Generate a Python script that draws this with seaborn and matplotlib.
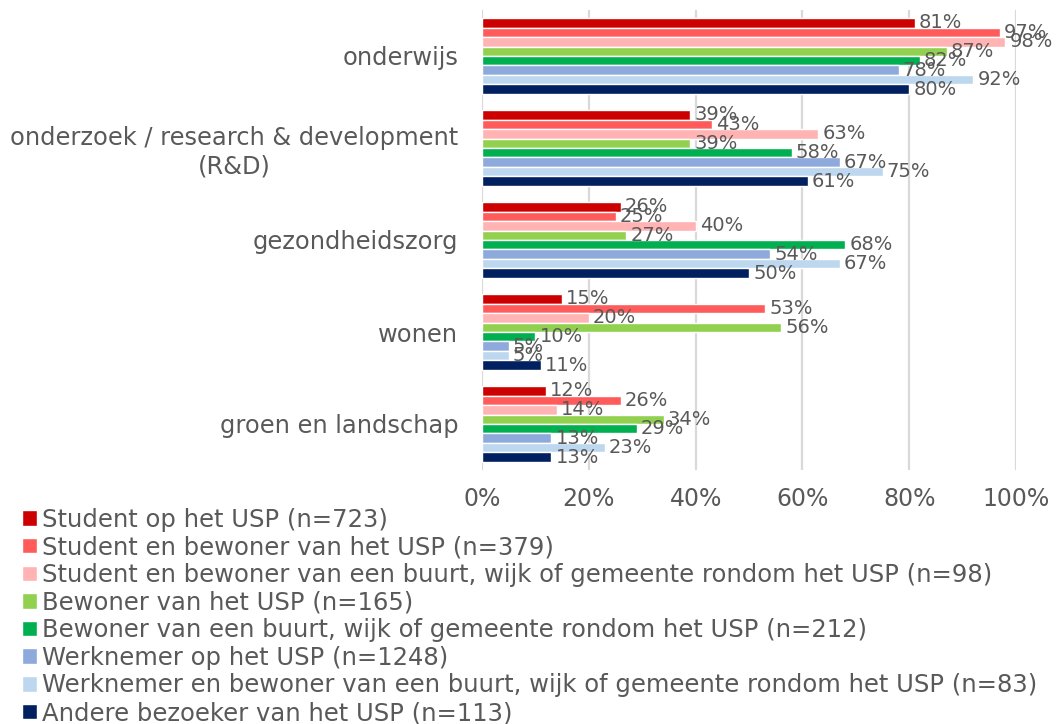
import matplotlib
matplotlib.use("Agg")
import matplotlib.pyplot as plt
import seaborn as sns
import pandas as pd

categories = ["onderwijs", "onderzoek / research & development\n(R&D)",
              "gezondheidszorg", "wonen", "groen en landschap"]
series = [
    "Student op het USP (n=723)",
    "Student en bewoner van het USP (n=379)",
    "Student en bewoner van een buurt, wijk of gemeente rondom het USP (n=98)",
    "Bewoner van het USP (n=165)",
    "Bewoner van een buurt, wijk of gemeente rondom het USP (n=212)",
    "Werknemer op het USP (n=1248)",
    "Werknemer en bewoner van een buurt, wijk of gemeente rondom het USP (n=83)",
    "Andere bezoeker van het USP (n=113)",
]
student = [81, 39, 26, 15, 12]
student_bewoner = [97, 43, 25, 53, 26]
student_buurt = [98, 63, 40, 20, 14]
bewoner = [87, 39, 27, 56, 34]
bewoner_buurt = [82, 58, 68, 10, 29]
werknemer = [78, 67, 54, 5, 13]
werknemer_buurt = [92, 75, 67, 5, 23]
andere = [80, 61, 50, 11, 13]
xticks = [0, 20, 40, 60, 80, 100]
xticklabels = ["0%", "20%", "40%", "60%", "80%", "100%"]

colors = ["#CC0000", "#FF5B5B", "#FFB3B3", "#92D050", "#00B050",
          "#8EA9DB", "#BDD7EE", "#002060"]

values = [student, student_bewoner, student_buurt, bewoner, bewoner_buurt,
          werknemer, werknemer_buurt, andere]
rows = []
for s, vals in zip(series, values):
    for c, v in zip(categories, vals):
        rows.append({"cat": c, "series": s, "val": v})
df = pd.DataFrame(rows)

sns.set_theme(style="white")
plt.rcParams['font.family'] = ['DejaVu Sans']
txt = "#595959"

fig = plt.figure(figsize=(10.59, 7.24), dpi=100)
ax = fig.add_axes([482/1059, 1 - 470/724, (1016-482)/1059, 460/724])

sns.barplot(data=df, y="cat", x="val", hue="series", order=categories,
            hue_order=series, palette=colors, orient="h", width=0.82,
            saturation=1, ax=ax, legend=True)

for cont in ax.containers:
    ax.bar_label(cont, labels=[f"{v:.0f}%" for v in cont.datavalues],
                 padding=3, fontsize=14, color=txt)

ax.set_xlim(0, 100)
ax.set_xticks(xticks)
ax.set_xticklabels(xticklabels, fontsize=17, color=txt)
ax.tick_params(axis="x", pad=12, length=0)
ax.tick_params(axis="y", pad=17, length=0)
for lab in ax.get_yticklabels():
    lab.set_fontsize(17.4)
    lab.set_color(txt)
    lab.set_multialignment("center")
ax.set_xlabel("")
ax.set_ylabel("")
ax.xaxis.grid(True, color="#D9D9D9", linewidth=1.6)
ax.set_axisbelow(True)
for sp in ax.spines.values():
    sp.set_visible(False)

handles, labels = ax.get_legend_handles_labels()
ax.get_legend().remove()
fig.legend(handles, labels, loc="upper left", bbox_to_anchor=(0.021, 0.299),
           frameon=False, fontsize=17.5, labelcolor=txt, handlelength=0.6,
           handleheight=0.6, handletextpad=0.2, labelspacing=0.15,
           borderaxespad=0, borderpad=0)

fig.savefig("out.png", dpi=100)
